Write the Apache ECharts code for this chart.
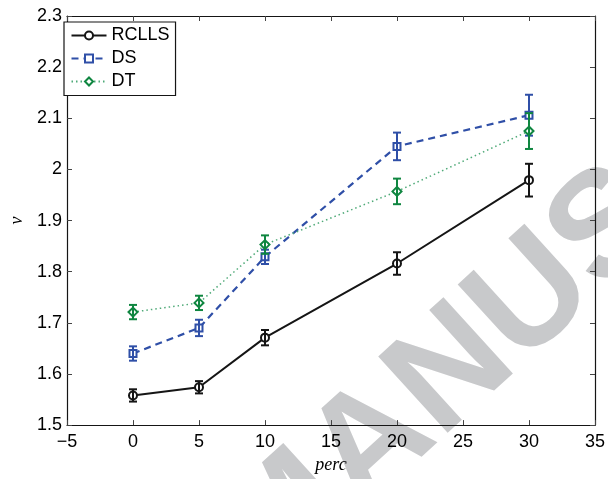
<!DOCTYPE html>
<html>
<head>
<meta charset="utf-8">
<script src="https://cdn.jsdelivr.net/npm/echarts@6/dist/echarts.min.js"></script>
<style>
html,body{margin:0;padding:0;background:#fff;}
#c{width:608px;height:479px;}
</style>
</head>
<body>
<div id="c"></div>
<script>
// ---- data ----
const xVals = [0, 5, 10, 20, 30];
const xTicks = [-5, 0, 5, 10, 15, 20, 25, 30, 35];
const yTicks = [1.5, 1.6, 1.7, 1.8, 1.9, 2, 2.1, 2.2, 2.3];

const rclls    = [1.558, 1.574, 1.671, 1.816, 1.979];
const rcllsErr = [0.012, 0.012, 0.015, 0.022, 0.032];
const ds       = [1.640, 1.690, 1.829, 2.045, 2.106];
const dsErr    = [0.014, 0.016, 0.014, 0.027, 0.040];
const dt       = [1.721, 1.739, 1.853, 1.957, 2.075];
const dtErr    = [0.014, 0.014, 0.018, 0.025, 0.035];

const seriesNames = ['RCLLS', 'DS', 'DT'];
const watermark = 'MANUSCRIPT';

// ---- styling ----
const cBlack = '#151515';
const cBlue = '#2f4fa7';
const cGreen = '#0f8640';
const cGreenLine = '#4faa78';
const font = 'Liberation Sans, Arial, Helvetica, sans-serif';

function pts(vals) { return xVals.map((x, i) => [x, vals[i]]); }
function errPts(vals, errs) { return xVals.map((x, i) => [x, vals[i], errs[i]]); }

function errorSeries(vals, errs, color, z) {
  return {
    type: 'custom',
    xAxisIndex: 0, yAxisIndex: 0,
    z: z,
    silent: true,
    data: errPts(vals, errs),
    renderItem: function (params, api) {
      const x = api.value(0), y = api.value(1), e = api.value(2);
      const top = api.coord([x, y + e]);
      const bot = api.coord([x, y - e]);
      const w = 4;
      const st = { stroke: color, lineWidth: 2 };
      return {
        type: 'group',
        children: [
          { type: 'line', shape: { x1: top[0], y1: top[1], x2: bot[0], y2: bot[1] }, style: st },
          { type: 'line', shape: { x1: top[0] - w, y1: top[1], x2: top[0] + w, y2: top[1] }, style: st },
          { type: 'line', shape: { x1: bot[0] - w, y1: bot[1], x2: bot[0] + w, y2: bot[1] }, style: st }
        ]
      };
    }
  };
}

const axisLine = { show: true, onZero: false, lineStyle: { color: cBlack, width: 1.2 } };
const tickIn = { show: true, inside: true, length: 5, lineStyle: { color: '#444', width: 1 } };

const chart = echarts.init(document.getElementById('c'), null, { renderer: 'canvas' });
chart.setOption({
  backgroundColor: '#fff',
  animation: false,
  grid: { left: 59, right: 11, top: 16, bottom: 39, containLabel: false },
  graphic: [{
    type: 'text',
    z: -1,
    x: 240, y: 566,
    rotation: 42.3 * Math.PI / 180,
    silent: true,
    style: {
      text: watermark,
      fontSize: 150,
      fontWeight: 'bold',
      fontFamily: font,
      fill: '#c8c9cb',
      align: 'left',
      verticalAlign: 'middle',
      textAlign: 'left',
      textVerticalAlign: 'middle'
    }
  }],
  legend: {
    data: seriesNames,
    orient: 'vertical',
    left: 64, top: 22,
    itemWidth: 35, itemHeight: 10, itemGap: 5,
    padding: [4.5, 6, 5, 6.5],
    backgroundColor: '#fff',
    borderColor: cBlack,
    borderWidth: 1.2,
    borderRadius: 0,
    textStyle: { fontSize: 18, fontFamily: font, color: '#000', lineHeight: 18 },
    z: 10
  },
  xAxis: [{
    type: 'value', min: -5, max: 35, interval: 5, position: 'bottom',
    axisLine: axisLine, axisTick: tickIn, splitLine: { show: false },
    axisLabel: { fontSize: 18, fontFamily: font, color: '#000', margin: 8,
      customValues: xTicks, formatter: v => String(v).replace('-', '\u2212') },
    name: 'perc', nameLocation: 'middle', nameGap: 19,
    nameTextStyle: { fontSize: 18, fontStyle: 'italic', fontFamily: 'Liberation Serif, Times New Roman, serif', color: '#000' }
  }, {
    type: 'value', min: -5, max: 35, interval: 5, position: 'top',
    axisLine: axisLine, axisTick: tickIn, splitLine: { show: false }, axisLabel: { show: false }
  }],
  yAxis: [{
    type: 'value', min: 1.5, max: 2.3, interval: 0.1, position: 'left',
    axisLine: axisLine, axisTick: tickIn, splitLine: { show: false },
    axisLabel: { fontSize: 18, fontFamily: font, color: '#000', margin: 5,
      customValues: yTicks, formatter: v => String(parseFloat(Number(v).toFixed(1))) },
    name: 'v', nameLocation: 'middle', nameGap: 41, nameRotate: 90,
    nameTextStyle: { fontSize: 18, fontStyle: 'italic', fontFamily: 'Liberation Serif, Times New Roman, serif', color: '#000' }
  }, {
    type: 'value', min: 1.5, max: 2.3, interval: 0.1, position: 'right',
    axisLine: axisLine, axisTick: tickIn, splitLine: { show: false }, axisLabel: { show: false }
  }],
  series: [
    {
      name: 'RCLLS', type: 'line', data: pts(rclls), z: 3,
      symbol: 'emptyCircle', symbolSize: 8,
      itemStyle: { color: cBlack, borderColor: cBlack, borderWidth: 2 },
      lineStyle: { color: cBlack, width: 2, type: 'solid' }
    },
    errorSeries(rclls, rcllsErr, cBlack, 4),
    {
      name: 'DS', type: 'line', data: pts(ds), z: 5,
      symbol: 'emptyRect', symbolSize: 7,
      itemStyle: { color: cBlue, borderColor: cBlue, borderWidth: 2 },
      lineStyle: { color: cBlue, width: 2.2, type: [7, 5] }
    },
    errorSeries(ds, dsErr, cBlue, 6),
    {
      name: 'DT', type: 'line', data: pts(dt), z: 7,
      symbol: 'emptyDiamond', symbolSize: 9,
      itemStyle: { color: cGreen, borderColor: cGreen, borderWidth: 2 },
      lineStyle: { color: cGreenLine, width: 1.5, type: [1.5, 3] }
    },
    errorSeries(dt, dtErr, cGreen, 8)
  ]
});
</script>
</body>
</html>
